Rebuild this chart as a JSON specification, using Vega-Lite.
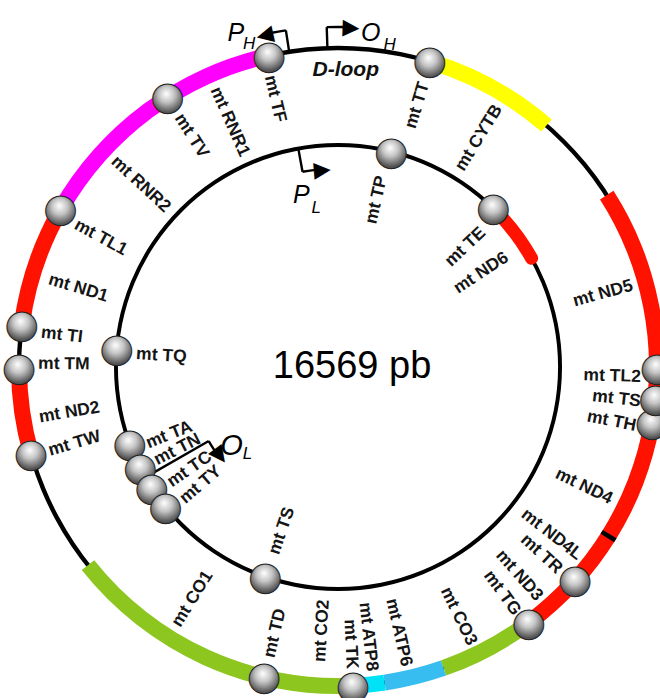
{
  "$schema": "https://vega.github.io/schema/vega-lite/v6.json",
  "width": 644,
  "height": 662,
  "autosize": "none",
  "padding": {"left": 16, "top": 36, "right": 0, "bottom": 0},
  "background": "white",
  "config": {"view": {"stroke": null}, "legend": {"disable": true}},
  "resolve": {"scale": {"angle": "independent"}},
  "datasets": {
    "segOut": [
      {"a": 16.7, "b": 40.8, "g": "CYTB"},
      {"a": 57.4, "b": 143.3, "g": "ND"},
      {"a": 121.6, "b": 122.4, "g": "nc"},
      {"a": 143.3, "b": 160.7, "g": "CO"},
      {"a": 160.7, "b": 171.6, "g": "ATP6"},
      {"a": 171.6, "b": 177.3, "g": "ATP8"},
      {"a": 177.3, "b": 231.6, "g": "CO"},
      {"a": 254.2, "b": 269.8, "g": "ND"},
      {"a": 277.6, "b": 299.6, "g": "ND"},
      {"a": 299.6, "b": 347.5, "g": "rRNA"}
    ],
    "segIn": [
      {"a": 44.4, "b": 62.3, "g": "ND"}
    ],
    "arrows": [
      {"a": 351.2, "b": 351.2, "r": 100, "r2": 106.8},
      {"a": 348.6, "b": 351.2, "r": 106.8, "r2": 106.8},
      {"a": 358.1, "b": 358.1, "r": 100, "r2": 106.6},
      {"a": 358.1, "b": 361.1, "r": 106.6, "r2": 106.6},
      {"a": 349.7, "b": 349.7, "r": 69.6, "r2": 62.2},
      {"a": 349.7, "b": 354.0, "r": 62.2, "r2": 62.2},
      {"a": 240.2, "b": 240.2, "r": 69.6, "r2": 46.7},
      {"a": 236.0, "b": 240.2, "r": 46.7, "r2": 46.7}
    ],
    "heads": [
      {"t": "◀", "a": 347.6, "r": 106.8},
      {"t": "▶", "a": 362.2, "r": 106.6},
      {"t": "▶", "a": 355.4, "r": 62.2},
      {"t": "◀", "a": 233.1, "r": 46.7}
    ],
    "labels": [
      {"t": "mt TF", "a": 346.8, "r": 93.8},
      {"t": "mt TV", "a": 327.6, "r": 93.4},
      {"t": "mt RNR1", "a": 336.2, "r": 95.6},
      {"t": "mt RNR2", "a": 312.8, "r": 95.9},
      {"t": "mt TL1", "a": 298.6, "r": 93.7},
      {"t": "mt ND1", "a": 286.9, "r": 94.7},
      {"t": "mt TI", "a": 276.6, "r": 93.7},
      {"t": "mt TM", "a": 270.6, "r": 94.0},
      {"t": "mt ND2", "a": 260.4, "r": 95.0},
      {"t": "mt TW", "a": 253.8, "r": 94.4},
      {"t": "mt CO1", "a": 212.1, "r": 95.6},
      {"t": "mt TD", "a": 193.3, "r": 93.5},
      {"t": "mt CO2", "a": 183.5, "r": 92.6},
      {"t": "mt TK", "a": 177.4, "r": 94.7},
      {"t": "mt ATP8", "a": 173.6, "r": 95.9},
      {"t": "mt ATP6", "a": 167.1, "r": 96.2},
      {"t": "mt CO3", "a": 154.2, "r": 96.6},
      {"t": "mt TG", "a": 144.0, "r": 95.5},
      {"t": "mt ND3", "a": 139.0, "r": 96.2},
      {"t": "mt TR", "a": 132.6, "r": 94.4},
      {"t": "mt ND4L", "a": 128.1, "r": 96.4},
      {"t": "mt ND4", "a": 115.9, "r": 95.3},
      {"t": "mt TH", "a": 101.2, "r": 95.2},
      {"t": "mt TS", "a": 96.5, "r": 95.5},
      {"t": "mt TL2", "a": 91.9, "r": 95.0},
      {"t": "mt ND5", "a": 74.5, "r": 95.8},
      {"t": "mt CYTB", "a": 31.6, "r": 95.9},
      {"t": "mt TT", "a": 16.9, "r": 93.2},
      {"t": "mt TP", "a": 13.0, "r": 61.4},
      {"t": "mt TE", "a": 46.7, "r": 62.5},
      {"t": "mt ND6", "a": 56.7, "r": 63.3},
      {"t": "mt TQ", "a": 273.7, "r": 63.4},
      {"t": "mt TA", "a": 248.1, "r": 64.6},
      {"t": "mt TN", "a": 242.8, "r": 64.4},
      {"t": "mt TC", "a": 235.4, "r": 64.3},
      {"t": "mt TY", "a": 229.4, "r": 64.3},
      {"t": "mt TS", "a": 198.9, "r": 61.9}
    ],
    "balls": [
      {"id": "TF", "a": 347.5, "ring": "out"},
      {"id": "TT", "a": 16.7, "ring": "out"},
      {"id": "TV", "a": 327.7, "ring": "out"},
      {"id": "TL1", "a": 299.6, "ring": "out"},
      {"id": "TI", "a": 277.6, "ring": "out"},
      {"id": "TM", "a": 269.8, "ring": "out"},
      {"id": "TW", "a": 254.2, "ring": "out"},
      {"id": "TD", "a": 193.4, "ring": "out"},
      {"id": "TK", "a": 177.3, "ring": "out"},
      {"id": "TG", "a": 143.3, "ring": "out"},
      {"id": "TR", "a": 132.0, "ring": "out"},
      {"id": "TH", "a": 100.1, "ring": "out"},
      {"id": "TS2", "a": 95.7, "ring": "out"},
      {"id": "TL2", "a": 90.2, "ring": "out"},
      {"id": "TP", "a": 13.9, "ring": "in"},
      {"id": "TE", "a": 44.4, "ring": "in"},
      {"id": "TQ", "a": 274.7, "ring": "in"},
      {"id": "TA", "a": 249.8, "ring": "in"},
      {"id": "TN", "a": 243.0, "ring": "in"},
      {"id": "TC", "a": 237.0, "ring": "in"},
      {"id": "TY", "a": 231.0, "ring": "in"},
      {"id": "TS1", "a": 199.1, "ring": "in"}
    ],
    "ann": [
      {"t": "P", "a": 343.0, "r": 109.6, "k": "big"},
      {"t": "H", "a": 344.6, "r": 104.9, "k": "sub"},
      {"t": "O", "a": 5.6, "r": 105.2, "k": "big"},
      {"t": "H", "a": 9.1, "r": 102.3, "k": "sub"},
      {"t": "P", "a": 347.9, "r": 55.0, "k": "big"},
      {"t": "L", "a": 352.2, "r": 50.3, "k": "sub"},
      {"t": "O", "a": 233.4, "r": 41.6, "k": "bigL"},
      {"t": "L", "a": 226.0, "r": 39.4, "k": "sub"}
    ]
  },
  "layer": [
    {
      "data": {"values": [{"ring": "out"}]},
      "mark": {"type": "arc", "theta": 0, "theta2": 6.2832, "radius": 321.2, "radius2": 316.8, "fill": "#000000"},
      "encoding": {}
    },
    {
      "data": {"values": [{"ring": "in"}]},
      "mark": {"type": "arc", "theta": 0, "theta2": 6.2832, "radius": 224, "radius2": 220, "fill": "#000000"},
      "encoding": {}
    },
    {
      "data": {"name": "segOut"},
      "mark": {"type": "arc", "radius": 327, "radius2": 311},
      "encoding": {
        "theta": {"field": "a", "type": "quantitative", "stack": null, "scale": {"type": "linear", "domain": [0, 360], "range": [0, 6.283185307179586], "zero": false, "nice": false}},
        "theta2": {"field": "b"},
        "color": {"field": "g", "type": "nominal", "legend": null, "scale": {"domain": ["ND", "CYTB", "CO", "ATP6", "ATP8", "rRNA", "nc"], "range": ["#ff1200", "#ffff00", "#8dc61e", "#38bdf0", "#00e3f7", "#ff00ff", "#000000"]}}
      }
    },
    {
      "data": {"name": "segIn"},
      "mark": {"type": "arc", "radius": 228.5, "radius2": 215.5, "cornerRadius": 6},
      "encoding": {
        "theta": {"field": "a", "type": "quantitative", "stack": null, "scale": {"type": "linear", "domain": [0, 360], "range": [0, 6.283185307179586], "zero": false, "nice": false}},
        "theta2": {"field": "b"},
        "color": {"field": "g", "type": "nominal", "legend": null, "scale": {"domain": ["ND", "CYTB", "CO", "ATP6", "ATP8", "rRNA", "nc"], "range": ["#ff1200", "#ffff00", "#8dc61e", "#38bdf0", "#00e3f7", "#ff00ff", "#000000"]}}
      }
    },
    {
      "data": {"name": "arrows"},
      "mark": {"type": "arc", "filled": false, "fill": null, "stroke": "#000000", "strokeWidth": 2.4},
      "encoding": {
        "theta": {"field": "a", "type": "quantitative", "stack": null, "scale": {"type": "linear", "domain": [0, 360], "range": [0, 6.283185307179586], "zero": false, "nice": false}},
        "theta2": {"field": "b"},
        "radius": {"field": "r", "type": "quantitative", "scale": {"type": "linear", "domain": [0, 100], "range": [0, 319], "zero": true, "nice": false}},
        "radius2": {"field": "r2"}
      }
    },
    {
      "data": {"name": "heads"},
      "mark": {"type": "text", "font": "DejaVu Sans", "fontSize": 22, "align": "center", "baseline": "middle", "fill": "#000000"},
      "encoding": {
        "theta": {"field": "a", "type": "quantitative", "stack": null, "scale": {"type": "linear", "domain": [0, 360], "range": [0, 6.283185307179586], "zero": false, "nice": false}},
        "radius": {"field": "r", "type": "quantitative", "scale": {"type": "linear", "domain": [0, 100], "range": [0, 319], "zero": true, "nice": false}},
        "text": {"field": "t"},
        "angle": {"field": "a", "type": "quantitative", "scale": {"type": "linear", "domain": [0, 360], "range": [0, 360], "zero": false, "nice": false}}
      }
    },
    {
      "data": {"name": "labels"},
      "transform": [{"filter": "datum.a < 180"}],
      "mark": {"type": "text", "font": "Liberation Sans", "fontWeight": "bold", "fontSize": 17.5, "align": "right", "baseline": "middle", "fill": "#151515"},
      "encoding": {
        "theta": {"field": "a", "type": "quantitative", "stack": null, "scale": {"type": "linear", "domain": [0, 360], "range": [0, 6.283185307179586], "zero": false, "nice": false}},
        "radius": {"field": "r", "type": "quantitative", "scale": {"type": "linear", "domain": [0, 100], "range": [0, 319], "zero": true, "nice": false}},
        "text": {"field": "t"},
        "angle": {"field": "a", "type": "quantitative", "scale": {"type": "linear", "domain": [0, 180], "range": [-90, 90], "zero": false, "nice": false}}
      }
    },
    {
      "data": {"name": "labels"},
      "transform": [{"filter": "datum.a >= 180"}],
      "mark": {"type": "text", "font": "Liberation Sans", "fontWeight": "bold", "fontSize": 17.5, "align": "left", "baseline": "middle", "fill": "#151515"},
      "encoding": {
        "theta": {"field": "a", "type": "quantitative", "stack": null, "scale": {"type": "linear", "domain": [0, 360], "range": [0, 6.283185307179586], "zero": false, "nice": false}},
        "radius": {"field": "r", "type": "quantitative", "scale": {"type": "linear", "domain": [0, 100], "range": [0, 319], "zero": true, "nice": false}},
        "text": {"field": "t"},
        "angle": {"field": "a", "type": "quantitative", "scale": {"type": "linear", "domain": [180, 360], "range": [-90, 90], "zero": false, "nice": false}}
      }
    },
    {
      "data": {"name": "balls"},
      "transform": [{"filter": "datum.ring == 'out'"}],
      "mark": {"type": "text", "text": "●", "font": "DejaVu Sans", "fontSize": 39, "align": "center", "baseline": "middle", "stroke": "#222222", "strokeWidth": 1,
        "fill": {"gradient": "radial", "x1": 0.47, "y1": 0.45, "r1": 0, "x2": 0.5, "y2": 0.5, "r2": 0.5, "stops": [{"offset": 0, "color": "#ffffff"}, {"offset": 0.35, "color": "#c4c4c4"}, {"offset": 0.75, "color": "#555555"}, {"offset": 1, "color": "#333333"}]}},
      "encoding": {
        "theta": {"field": "a", "type": "quantitative", "stack": null, "scale": {"type": "linear", "domain": [0, 360], "range": [0, 6.283185307179586], "zero": false, "nice": false}},
        "radius": {"value": 319}
      }
    },
    {
      "data": {"name": "balls"},
      "transform": [{"filter": "datum.ring == 'in'"}],
      "mark": {"type": "text", "text": "●", "font": "DejaVu Sans", "fontSize": 39, "align": "center", "baseline": "middle", "stroke": "#222222", "strokeWidth": 1,
        "fill": {"gradient": "radial", "x1": 0.47, "y1": 0.45, "r1": 0, "x2": 0.5, "y2": 0.5, "r2": 0.5, "stops": [{"offset": 0, "color": "#ffffff"}, {"offset": 0.35, "color": "#c4c4c4"}, {"offset": 0.75, "color": "#555555"}, {"offset": 1, "color": "#333333"}]}},
      "encoding": {
        "theta": {"field": "a", "type": "quantitative", "stack": null, "scale": {"type": "linear", "domain": [0, 360], "range": [0, 6.283185307179586], "zero": false, "nice": false}},
        "radius": {"value": 222}
      }
    },
    {
      "data": {"name": "ann"},
      "transform": [{"filter": "datum.k == 'big'"}],
      "mark": {"type": "text", "font": "Liberation Sans", "fontStyle": "italic", "fontSize": 25, "align": "center", "baseline": "middle", "fill": "#000000"},
      "encoding": {
        "theta": {"field": "a", "type": "quantitative", "stack": null, "scale": {"type": "linear", "domain": [0, 360], "range": [0, 6.283185307179586], "zero": false, "nice": false}},
        "radius": {"field": "r", "type": "quantitative", "scale": {"type": "linear", "domain": [0, 100], "range": [0, 319], "zero": true, "nice": false}},
        "text": {"field": "t"}
      }
    },
    {
      "data": {"name": "ann"},
      "transform": [{"filter": "datum.k == 'bigL'"}],
      "mark": {"type": "text", "font": "Liberation Sans", "fontStyle": "italic", "fontSize": 29, "align": "center", "baseline": "middle", "fill": "#000000"},
      "encoding": {
        "theta": {"field": "a", "type": "quantitative", "stack": null, "scale": {"type": "linear", "domain": [0, 360], "range": [0, 6.283185307179586], "zero": false, "nice": false}},
        "radius": {"field": "r", "type": "quantitative", "scale": {"type": "linear", "domain": [0, 100], "range": [0, 319], "zero": true, "nice": false}},
        "text": {"field": "t"}
      }
    },
    {
      "data": {"name": "ann"},
      "transform": [{"filter": "datum.k == 'sub'"}],
      "mark": {"type": "text", "font": "Liberation Sans", "fontStyle": "italic", "fontSize": 17, "align": "center", "baseline": "middle", "fill": "#000000"},
      "encoding": {
        "theta": {"field": "a", "type": "quantitative", "stack": null, "scale": {"type": "linear", "domain": [0, 360], "range": [0, 6.283185307179586], "zero": false, "nice": false}},
        "radius": {"field": "r", "type": "quantitative", "scale": {"type": "linear", "domain": [0, 100], "range": [0, 319], "zero": true, "nice": false}},
        "text": {"field": "t"}
      }
    },
    {
      "data": {"values": [{"t": "D-loop", "a": 1.5, "r": 93.1}]},
      "mark": {"type": "text", "font": "Liberation Sans", "fontStyle": "italic", "fontWeight": "bold", "fontSize": 21, "align": "center", "baseline": "middle", "fill": "#111111"},
      "encoding": {
        "theta": {"field": "a", "type": "quantitative", "stack": null, "scale": {"type": "linear", "domain": [0, 360], "range": [0, 6.283185307179586], "zero": false, "nice": false}},
        "radius": {"field": "r", "type": "quantitative", "scale": {"type": "linear", "domain": [0, 100], "range": [0, 319], "zero": true, "nice": false}},
        "text": {"field": "t"}
      }
    },
    {
      "data": {"values": [{"t": "16569 pb", "a": 90, "r": 4.4}]},
      "mark": {"type": "text", "font": "Liberation Sans", "fontSize": 38, "align": "center", "baseline": "middle", "fill": "#000000"},
      "encoding": {
        "theta": {"field": "a", "type": "quantitative", "stack": null, "scale": {"type": "linear", "domain": [0, 360], "range": [0, 6.283185307179586], "zero": false, "nice": false}},
        "radius": {"field": "r", "type": "quantitative", "scale": {"type": "linear", "domain": [0, 100], "range": [0, 319], "zero": true, "nice": false}},
        "text": {"field": "t"}
      }
    }
  ]
}
